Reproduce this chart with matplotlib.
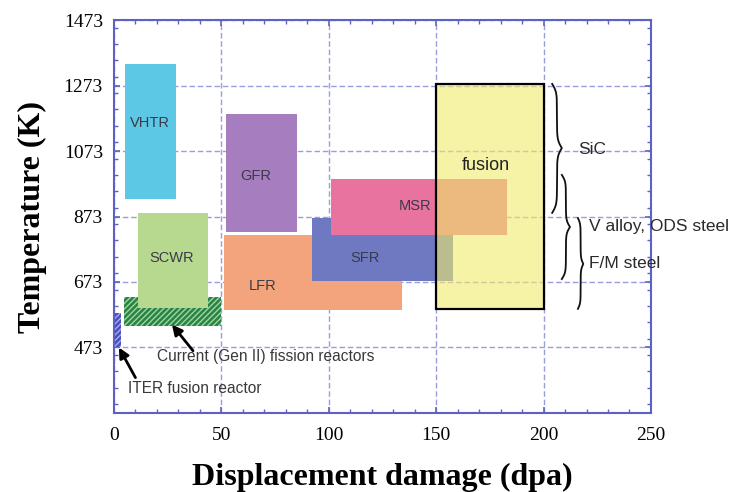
import numpy as np
import matplotlib
matplotlib.use("Agg")
import matplotlib.pyplot as plt
from matplotlib.patches import Rectangle
from matplotlib.ticker import MultipleLocator, FixedLocator

# ---------------- data ----------------
reactors = ["VHTR", "GFR", "SCWR", "LFR", "SFR", "MSR"]
dpa_lo = [5, 52, 11, 51, 92, 101]
dpa_hi = [29, 85, 44, 134, 158, 183]
temp_lo = [925, 826, 594, 588, 676, 817]
temp_hi = [1340, 1186, 884, 817, 868, 988]
reactor_colors = ["#5cc8e6", "#a67dbf", "#b7d98f", "#f3a47c", "#6f79c2", "#e8739f"]
label_dpa = [16.8, 66, 27, 69, 117, 140]
label_temp = [1158, 997, 746, 661, 746, 905]

fusion_dpa = [150, 200]
fusion_temp = [591, 1279]

genII_dpa = [4.7, 50]
genII_temp = [540, 628]
iter_dpa = [0.6, 3.3]
iter_temp = [473, 578]

# annotations: text, text position, arrow tail, arrow tip
notes = ["Current (Gen II) fission reactors", "ITER fusion reactor"]
note_x = [20, 6.5]
note_t = [444, 349]
arrow_tail = [(36.8, 463), (10.0, 381)]
arrow_tip = [(27, 543), (2.3, 473)]

# material braces: (x_left, width, T_low, T_high)
brace_names = ["SiC", "V alloy, ODS steel", "F/M steel"]
brace_x = [204, 208.5, 216]
brace_w = [4.5, 3.8, 2.5]
brace_tlo = [884, 682, 591]
brace_thi = [1278, 1000, 868]
brace_tip = [1082, 841, 728]
brace_label_x = [216, 221, 221]
brace_label_t = [1077, 841, 728]

x_ticks = [0, 50, 100, 150, 200, 250]
y_ticks = [473, 673, 873, 1073, 1273, 1473]

# ---------------- figure ----------------
fig = plt.figure(figsize=(7.41, 4.92), dpi=100)
ax = fig.add_axes([0.1538, 0.1606, 0.7247, 0.7987])
ax.set_xlim(0, 250)
ax.set_ylim(273, 1473)

blue = "#5d61c6"
ax.set_axisbelow(True)
ax.grid(True, which="major", color="#9a9edc", linestyle=(0, (4, 2)), linewidth=1.0)

for s in ax.spines.values():
    s.set_color(blue)
    s.set_linewidth(1.5)

ax.xaxis.set_major_locator(FixedLocator(x_ticks))
ax.xaxis.set_minor_locator(MultipleLocator(10))
ax.yaxis.set_major_locator(FixedLocator(y_ticks))
ax.yaxis.set_minor_locator(MultipleLocator(50))
ax.tick_params(which="both", direction="in", top=True, right=True, color=blue)
ax.tick_params(which="major", length=4, width=1.2)
ax.tick_params(which="minor", length=3, width=1.0)
ax.set_xticklabels([str(v) for v in x_ticks])
ax.set_yticklabels([str(v) for v in y_ticks])
for lab in ax.get_xticklabels() + ax.get_yticklabels():
    lab.set_fontfamily("Liberation Serif")
    lab.set_fontsize(14)
ax.tick_params(axis="x", pad=10)
ax.tick_params(axis="y", pad=8)

# Gen II hatched region (behind SCWR)
plt.rcParams["hatch.linewidth"] = 1.0
ax.add_patch(Rectangle((genII_dpa[0], genII_temp[0]), genII_dpa[1] - genII_dpa[0],
                       genII_temp[1] - genII_temp[0], facecolor="#2a8441",
                       edgecolor="#9fd4a6", hatch="//////", linewidth=0, zorder=2))
ax.add_patch(Rectangle((iter_dpa[0], iter_temp[0]), iter_dpa[1] - iter_dpa[0],
                       iter_temp[1] - iter_temp[0], facecolor="#4a50c0",
                       edgecolor="#a9adea", hatch="//////", linewidth=0, zorder=2))

for i, name in enumerate(reactors):
    ax.add_patch(Rectangle((dpa_lo[i], temp_lo[i]), dpa_hi[i] - dpa_lo[i],
                           temp_hi[i] - temp_lo[i], facecolor=reactor_colors[i],
                           edgecolor="none", zorder=3 + i * 0.1))
    ax.text(label_dpa[i], label_temp[i], name, fontsize=10.5, color="#3a3a48",
            family="Liberation Sans", ha="center", va="center", zorder=5)

# fusion box (translucent)
ax.add_patch(Rectangle((fusion_dpa[0], fusion_temp[0]), fusion_dpa[1] - fusion_dpa[0],
                       fusion_temp[1] - fusion_temp[0], facecolor=(0.94, 0.92, 0.42, 0.6),
                       edgecolor="black", linewidth=1.6, zorder=4))
ax.text(173, 1030, "fusion", fontsize=13, color="#222222", family="Liberation Sans",
        ha="center", va="center", zorder=5)

# braces
def draw_brace(x0, w, ylo, yhi, ytip):
    n = 200
    s = np.linspace(0, 1, n)
    k = 16.0
    f = 1 / (1 + np.exp(-k * s)) + 1 / (1 + np.exp(-k * (s - 1))) - 0.5
    y_low = ylo + (ytip - ylo) * s
    y_up = yhi - (yhi - ytip) * s
    xs = x0 + w * f
    ax.plot(np.concatenate([xs, xs[::-1]]), np.concatenate([y_low, y_up[::-1]]),
            color="#111111", linewidth=1.3, clip_on=False, zorder=6)

for i, name in enumerate(brace_names):
    draw_brace(brace_x[i], brace_w[i], brace_tlo[i], brace_thi[i], brace_tip[i])
    ax.text(brace_label_x[i], brace_label_t[i], name, fontsize=12.5, color="#2a2a2a",
            family="Liberation Sans", ha="left", va="center", zorder=6, clip_on=False)

# annotations
for i, txt in enumerate(notes):
    ax.text(note_x[i], note_t[i], txt, fontsize=11.2, color="#3a3a3a",
            family="Liberation Sans", ha="left", va="center", zorder=6)
    ax.annotate("", xy=arrow_tip[i], xytext=arrow_tail[i],
                arrowprops=dict(arrowstyle="-|>", color="black", lw=2.0,
                                mutation_scale=15, shrinkA=0, shrinkB=0),
                zorder=6)

ax.set_xlabel("Displacement damage (dpa)", family="Liberation Serif", fontweight="bold",
              fontsize=23, labelpad=14)
ax.set_ylabel("Temperature (K)", family="Liberation Serif", fontweight="bold",
              fontsize=23, labelpad=12)

fig.savefig("out.png", dpi=100)
